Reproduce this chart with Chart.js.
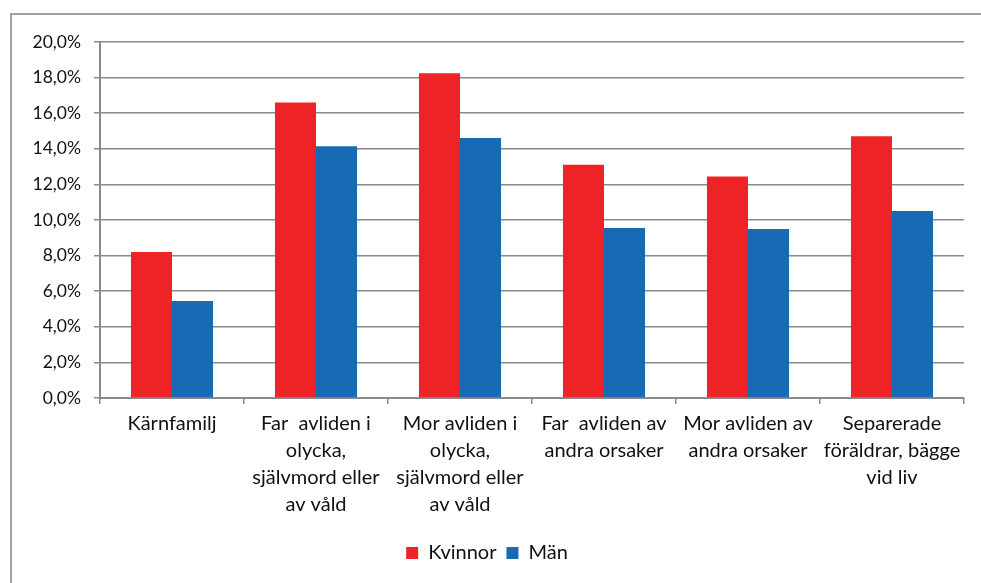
<!DOCTYPE html>
<html>
<head>
<meta charset="utf-8">
<script src="https://cdn.jsdelivr.net/npm/chart.js@4"></script>
<style>
    body { margin: 0; background: #fff; }
    #frame {
        position: absolute; left: 10px; top: 13px; width: 990px; height: 600px;
        border-left: 2px solid #a0a0a0; border-top: 2px solid #a0a0a0;
    }
    #wrap { position: absolute; left: 0; top: 0; width: 981px; height: 583px; }
</style>
</head>
<body>
<div id="frame"></div>
<div id="wrap"><canvas id="chart"></canvas></div>
<script>
var categories = [
    'Kärnfamilj',
    ['Far  avliden i', 'olycka,', 'självmord eller', 'av våld'],
    ['Mor avliden i', 'olycka,', 'självmord eller', 'av våld'],
    ['Far  avliden av', 'andra orsaker'],
    ['Mor avliden av', 'andra orsaker'],
    ['Separerade', 'föräldrar, bägge', 'vid liv']
];
var kvinnor = [8.2, 16.6, 18.25, 13.1, 12.45, 14.7];
var man = [5.45, 14.15, 14.6, 9.55, 9.5, 10.5];
var yTicks = [0, 2, 4, 6, 8, 10, 12, 14, 16, 18, 20];

var gridColor = '#8a8a8a';
var fontFam = 'Lato, "Open Sans", sans-serif';

var ctx = document.getElementById('chart');
var myChart = new Chart(ctx, {
    type: 'bar',
    data: {
        labels: categories,
        datasets: [
            {
                label: 'Kvinnor',
                data: kvinnor,
                backgroundColor: '#ed2325',
                categoryPercentage: 0.57,
                barPercentage: 1.0
            },
            {
                label: 'Män',
                data: man,
                backgroundColor: '#176ab3',
                categoryPercentage: 0.57,
                barPercentage: 1.0
            }
        ]
    },
    options: {
        responsive: true,
        maintainAspectRatio: false,
        animation: false,
        layout: {
            padding: { left: 10, top: 42, right: 17, bottom: 10 }
        },
        plugins: {
            tooltip: { enabled: false },
            legend: {
                position: 'bottom',
                labels: {
                    boxWidth: 12,
                    boxHeight: 12,
                    padding: 10,
                    color: '#111',
                    font: { family: fontFam, size: 20 }
                }
            }
        },
        scales: {
            x: {
                grid: {
                    offset: true,
                    drawOnChartArea: false,
                    tickLength: 6,
                    color: gridColor,
                    lineWidth: 1.5
                },
                border: { color: gridColor, width: 2 },
                ticks: {
                    color: '#111',
                    padding: 6,
                    maxRotation: 0,
                    autoSkip: false,
                    font: { family: fontFam, size: 20, lineHeight: 1.35 }
                },
                afterFit: function (scale) {
                    scale.height = 135;
                }
            },
            y: {
                min: 0,
                max: 20,
                afterBuildTicks: function (scale) {
                    scale.ticks = yTicks.map(function (v) { return { value: v }; });
                },
                grid: {
                    color: gridColor,
                    lineWidth: 1.5,
                    tickLength: 6
                },
                border: { color: gridColor, width: 2 },
                ticks: {
                    color: '#111',
                    padding: 13,
                    font: { family: fontFam, size: 17.5 },
                    callback: function (v) {
                        return v.toFixed(1).replace('.', ',') + '%';
                    }
                },
                afterFit: function (scale) {
                    scale.width = 90;
                }
            }
        }
    }
});
</script>
</body>
</html>
